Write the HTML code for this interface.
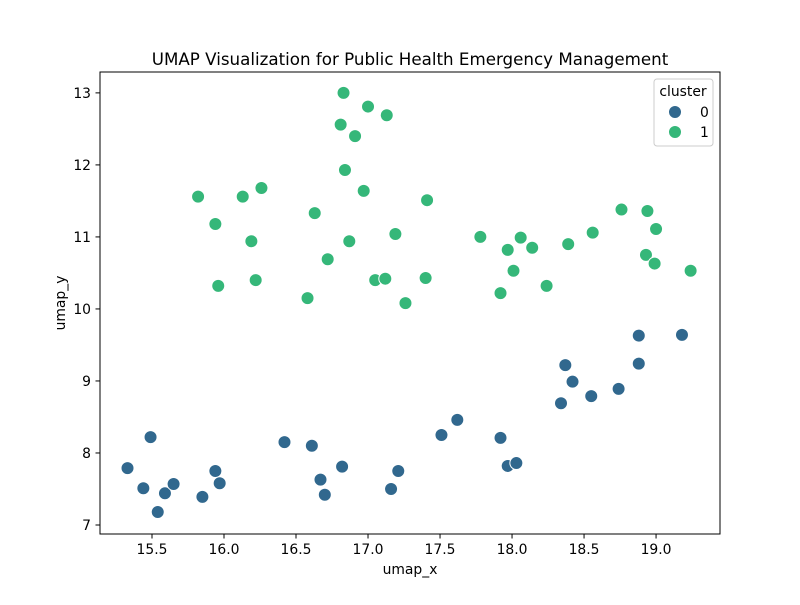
<!DOCTYPE html>
<html><head><meta charset="utf-8"><style>
body{margin:0;background:#fff;}
svg text{font-family:"DejaVu Sans","Liberation Sans",sans-serif;fill:#000;}
</style></head><body>
<svg id="chart" width="800" height="600" xmlns="http://www.w3.org/2000/svg">
<rect width="800" height="600" fill="#fff"/>
<text x="410" y="65" font-size="16.7" text-anchor="middle">UMAP Visualization for Public Health Emergency Management</text>
<g id="points"></g>
<rect x="100" y="72" width="620" height="462" fill="none" stroke="#000" stroke-width="1"/>
<g id="xticks"></g><g id="yticks"></g>
<text x="410" y="574" font-size="13.9" text-anchor="middle">umap_x</text>
<text transform="translate(65,303) rotate(-90)" font-size="13.9" text-anchor="middle">umap_y</text>
<g>
<rect x="654" y="79" width="59" height="67" rx="3" fill="#fff" fill-opacity="0.8" stroke="#ccc"/>
<text x="683" y="96" font-size="13.9" text-anchor="middle">cluster</text>
<circle cx="675" cy="112" r="6.5" fill="#31688e" stroke="#fff" stroke-width="1"/>
<text x="700" y="117" font-size="13.9">0</text>
<circle cx="675" cy="132" r="6.5" fill="#35b779" stroke="#fff" stroke-width="1"/>
<text x="700" y="137" font-size="13.9">1</text>
</g>
</svg>
<script>
const c0x=[15.33,15.49,15.44,15.54,15.59,15.65,15.85,15.94,15.97,16.42,16.61,16.67,16.70,16.82,17.16,17.21,17.51,17.62,17.92,17.97,18.03,18.34,18.37,18.42,18.55,18.74,18.88,18.88,19.18];
const c0y=[7.79,8.22,7.51,7.18,7.44,7.57,7.39,7.75,7.58,8.15,8.10,7.63,7.42,7.81,7.50,7.75,8.25,8.46,8.21,7.82,7.86,8.69,9.22,8.99,8.79,8.89,9.24,9.63,9.64];
const c1x=[15.82,15.94,15.96,16.13,16.19,16.22,16.26,16.58,16.63,16.72,16.83,16.81,16.84,16.87,16.91,16.97,17.00,17.05,17.12,17.13,17.19,17.26,17.40,17.41,17.78,17.92,17.97,18.01,18.06,18.14,18.24,18.39,18.56,18.76,18.93,18.94,18.99,19.00,19.24];
const c1y=[11.56,11.18,10.32,11.56,10.94,10.40,11.68,10.15,11.33,10.69,13.00,12.56,11.93,10.94,12.40,11.64,12.81,10.40,10.42,12.69,11.04,10.08,10.43,11.51,11.00,10.22,10.82,10.53,10.99,10.85,10.32,10.90,11.06,11.38,10.75,11.36,10.63,11.11,10.53];
const xTicks=["15.5","16.0","16.5","17.0","17.5","18.0","18.5","19.0"];
const yTicks=["7","8","9","10","11","12","13"];
const NS="http://www.w3.org/2000/svg";
const X0=15.139,X1=19.444,Y0=6.875,Y1=13.29;
function sx(v){return 100+(v-X0)/(X1-X0)*620;}
function sy(v){return 534-(v-Y0)/(Y1-Y0)*462;}
function mk(t,a){const e=document.createElementNS(NS,t);for(const k in a)e.setAttribute(k,a[k]);return e;}
const xt=document.getElementById('xticks'),yt=document.getElementById('yticks'),pts=document.getElementById('points');
xTicks.forEach(t=>{const x=sx(parseFloat(t));
const l=mk('line',{x1:x,x2:x,y1:534,y2:538.5,stroke:'#000'});


xt.appendChild(l);
const tx=mk('text',{x:x,y:554,'font-size':13.9,'text-anchor':'middle'});tx.textContent=t;


xt.appendChild(tx);});
yTicks.forEach(t=>{const y=sy(parseFloat(t));
const l=mk('line',{x1:95.5,x2:100,y1:y,y2:y,stroke:'#000'});


yt.appendChild(l);
const tx=mk('text',{x:91,y:y+5,'font-size':13.9,'text-anchor':'end'});tx.textContent=t;


yt.appendChild(tx);});
function draw(xs,ys,col,name){xs.forEach((v,i)=>{
const c=mk('circle',{cx:sx(v),cy:sy(ys[i]),r:6.5,fill:col,stroke:'#fff','stroke-width':1});


pts.appendChild(c);});}
draw(c0x,c0y,'#31688e','point-cluster-0');
draw(c1x,c1y,'#35b779','point-cluster-1');
</script>
</body></html>
